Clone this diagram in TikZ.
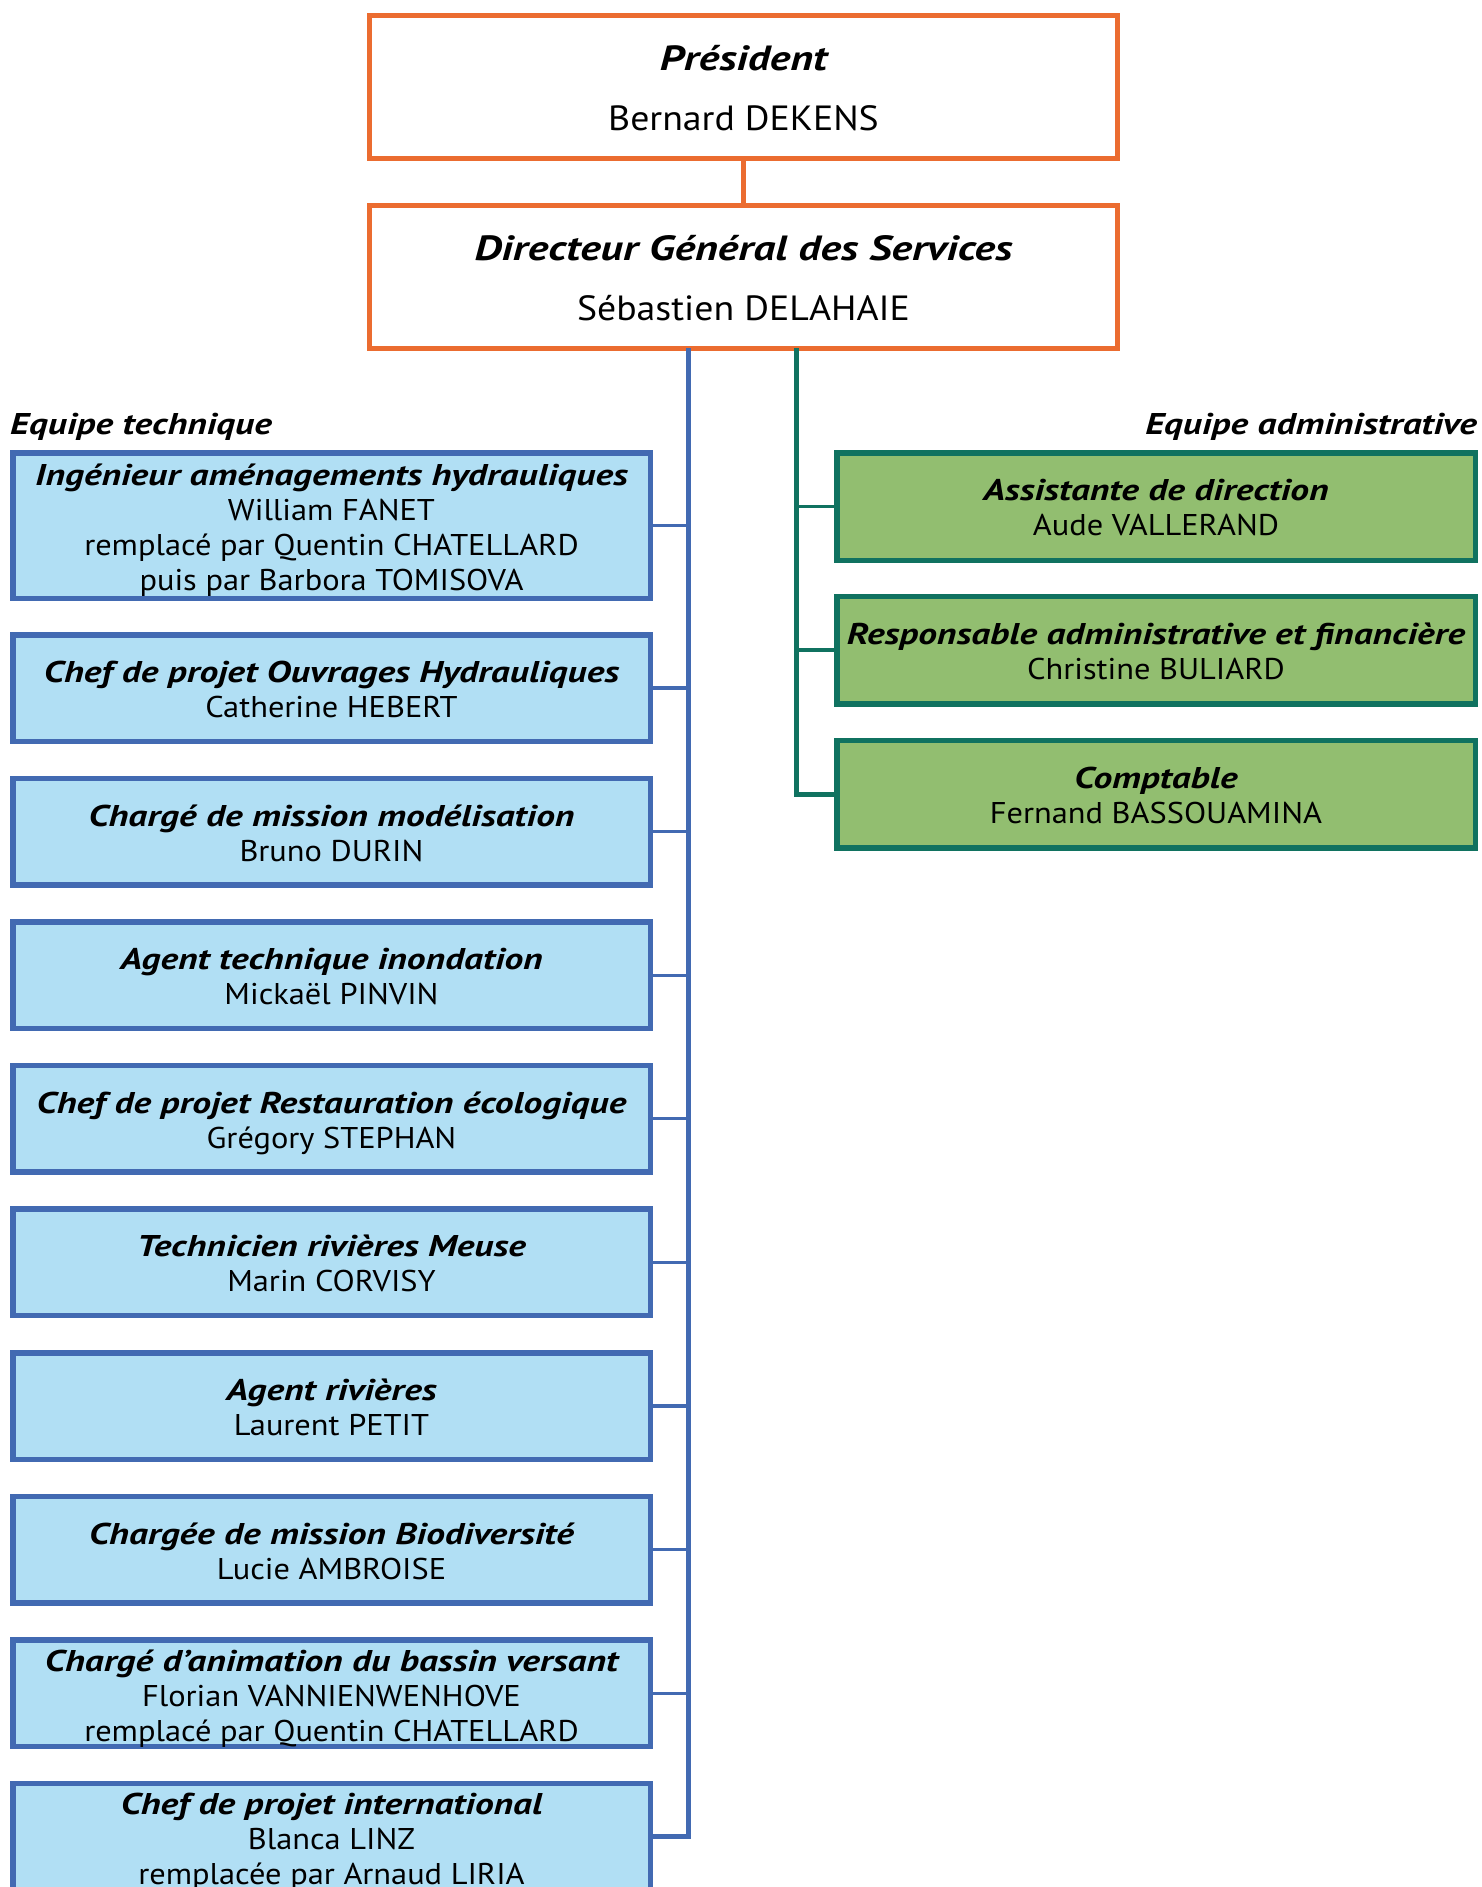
\documentclass[tikz,border=0pt]{standalone}
\usepackage{fontspec}
\setmainfont{PT Sans}[UprightFeatures={FakeStretch=1.08}, BoldItalicFeatures={FakeStretch=1.25}]
\definecolor{orng}{RGB}{235,108,48}
\definecolor{bluebd}{RGB}{66,106,178}
\definecolor{bluefill}{RGB}{177,223,244}
\definecolor{grnbd}{RGB}{16,114,96}
\definecolor{grnfill}{RGB}{146,190,112}
\newcommand{\ttl}[1]{{\bfseries\itshape #1}}
% lowers a centred multi-line block without changing its reported size
\newcommand{\btext}[2][5pt]{\raisebox{-#1}[\height][\depth]{\begin{tabular}{@{}c@{}}#2\end{tabular}}}
\tikzset{
  topbox/.style={draw=orng, line width=5pt, fill=white, minimum width=748pt, minimum height=143pt, inner sep=0pt, align=center, font=\fontsize{35}{60}\selectfont},
  techbox/.style={draw=bluebd, fill=bluefill, line width=5.5pt, minimum width=637.5pt, minimum height=106.5pt, inner sep=0pt, align=center, font=\fontsize{30}{35}\selectfont},
  admbox/.style={draw=grnbd, fill=grnfill, line width=5.5pt, minimum width=638.5pt, minimum height=107.5pt, inner sep=0pt, align=center, font=\fontsize{30}{35}\selectfont},
  grouplabel/.style={inner sep=0pt, font=\fontsize{30}{35}\selectfont\bfseries\itshape},
  bluetrunk/.style={draw=bluebd, line width=5pt},
  bluestub/.style={draw=bluebd, line width=3.2pt},
  greentrunk/.style={draw=grnbd, line width=5pt},
  greenstub/.style={draw=grnbd, line width=3.2pt},
  orangeline/.style={draw=orng, line width=4.5pt}
}
\begin{document}
\begin{tikzpicture}[x=1pt,y=-1pt]
\useasboundingbox[fill=white] (0,0) rectangle (1481,1887);

\coordinate (btop) at (688.5,348);
\coordinate (gtop) at (796.5,348);

\node[topbox] (pres) at (743.5,86.5) {\btext[2pt]{\ttl{Président}\\Bernard DEKENS}};
\node[topbox] (dgs) at (743.5,276.5) {\btext[2pt]{\ttl{Directeur Général des Services}\\Sébastien DELAHAIE}};
\draw[orangeline] (pres.south) -- (dgs.north);

\node[grouplabel, anchor=west] (lbltech) at (10,427) {Equipe technique};
\node[grouplabel, anchor=east] (lbladm) at (1477,427) {Equipe administrative};

\node[techbox, minimum height=145.5pt] (t1) at (331.5,525.5) {\btext{\ttl{Ingénieur aménagements hydrauliques}\\William FANET\\remplacé par Quentin CHATELLARD\\puis par Barbora TOMISOVA}};
\node[techbox] (t2) at (331.5,688) {\btext{\ttl{Chef de projet Ouvrages Hydrauliques}\\Catherine HEBERT}};
\node[techbox] (t3) at (331.5,831.6) {\btext{\ttl{Chargé de mission modélisation}\\Bruno DURIN}};
\node[techbox] (t4) at (331.5,975.2) {\btext{\ttl{Agent technique inondation}\\Mickaël PINVIN}};
\node[techbox] (t5) at (331.5,1118.8) {\btext{\ttl{Chef de projet Restauration écologique}\\Grégory STEPHAN}};
\node[techbox] (t6) at (331.5,1262.4) {\btext{\ttl{Technicien rivières Meuse}\\Marin CORVISY}};
\node[techbox] (t7) at (331.5,1406) {\btext{\ttl{Agent rivières}\\Laurent PETIT}};
\node[techbox] (t8) at (331.5,1549.6) {\btext{\ttl{Chargée de mission Biodiversité}\\Lucie AMBROISE}};
\node[techbox] (t9) at (331.5,1693.2) {\btext[6pt]{\ttl{Chargé d’animation du bassin versant}\\Florian VANNIENWENHOVE\\remplacé par Quentin CHATELLARD}};
\node[techbox] (t10) at (331.5,1836.8) {\btext[5.5pt]{\ttl{Chef de projet international}\\Blanca LINZ\\remplacée par Arnaud LIRIA}};

\node[admbox] (a1) at (1156,506.5) {\btext[4.5pt]{\ttl{Assistante de direction}\\Aude VALLERAND}};
\node[admbox] (a2) at (1156,650) {\btext[4.5pt]{\ttl{Responsable administrative et financière}\\Christine BULIARD}};
\node[admbox] (a3) at (1156,794) {\btext[4.5pt]{\ttl{Comptable}\\Fernand BASSOUAMINA}};

\draw[bluetrunk] (btop) |- (t10.east);
\foreach \n in {1,...,9} {\draw[bluestub] (t\n.east) -- (t\n.east -| btop);}
\draw[greentrunk] (gtop) |- (a3.west);
\foreach \n in {1,2} {\draw[greenstub] (a\n.west) -- (a\n.west -| gtop);}
\end{tikzpicture}
\end{document}
